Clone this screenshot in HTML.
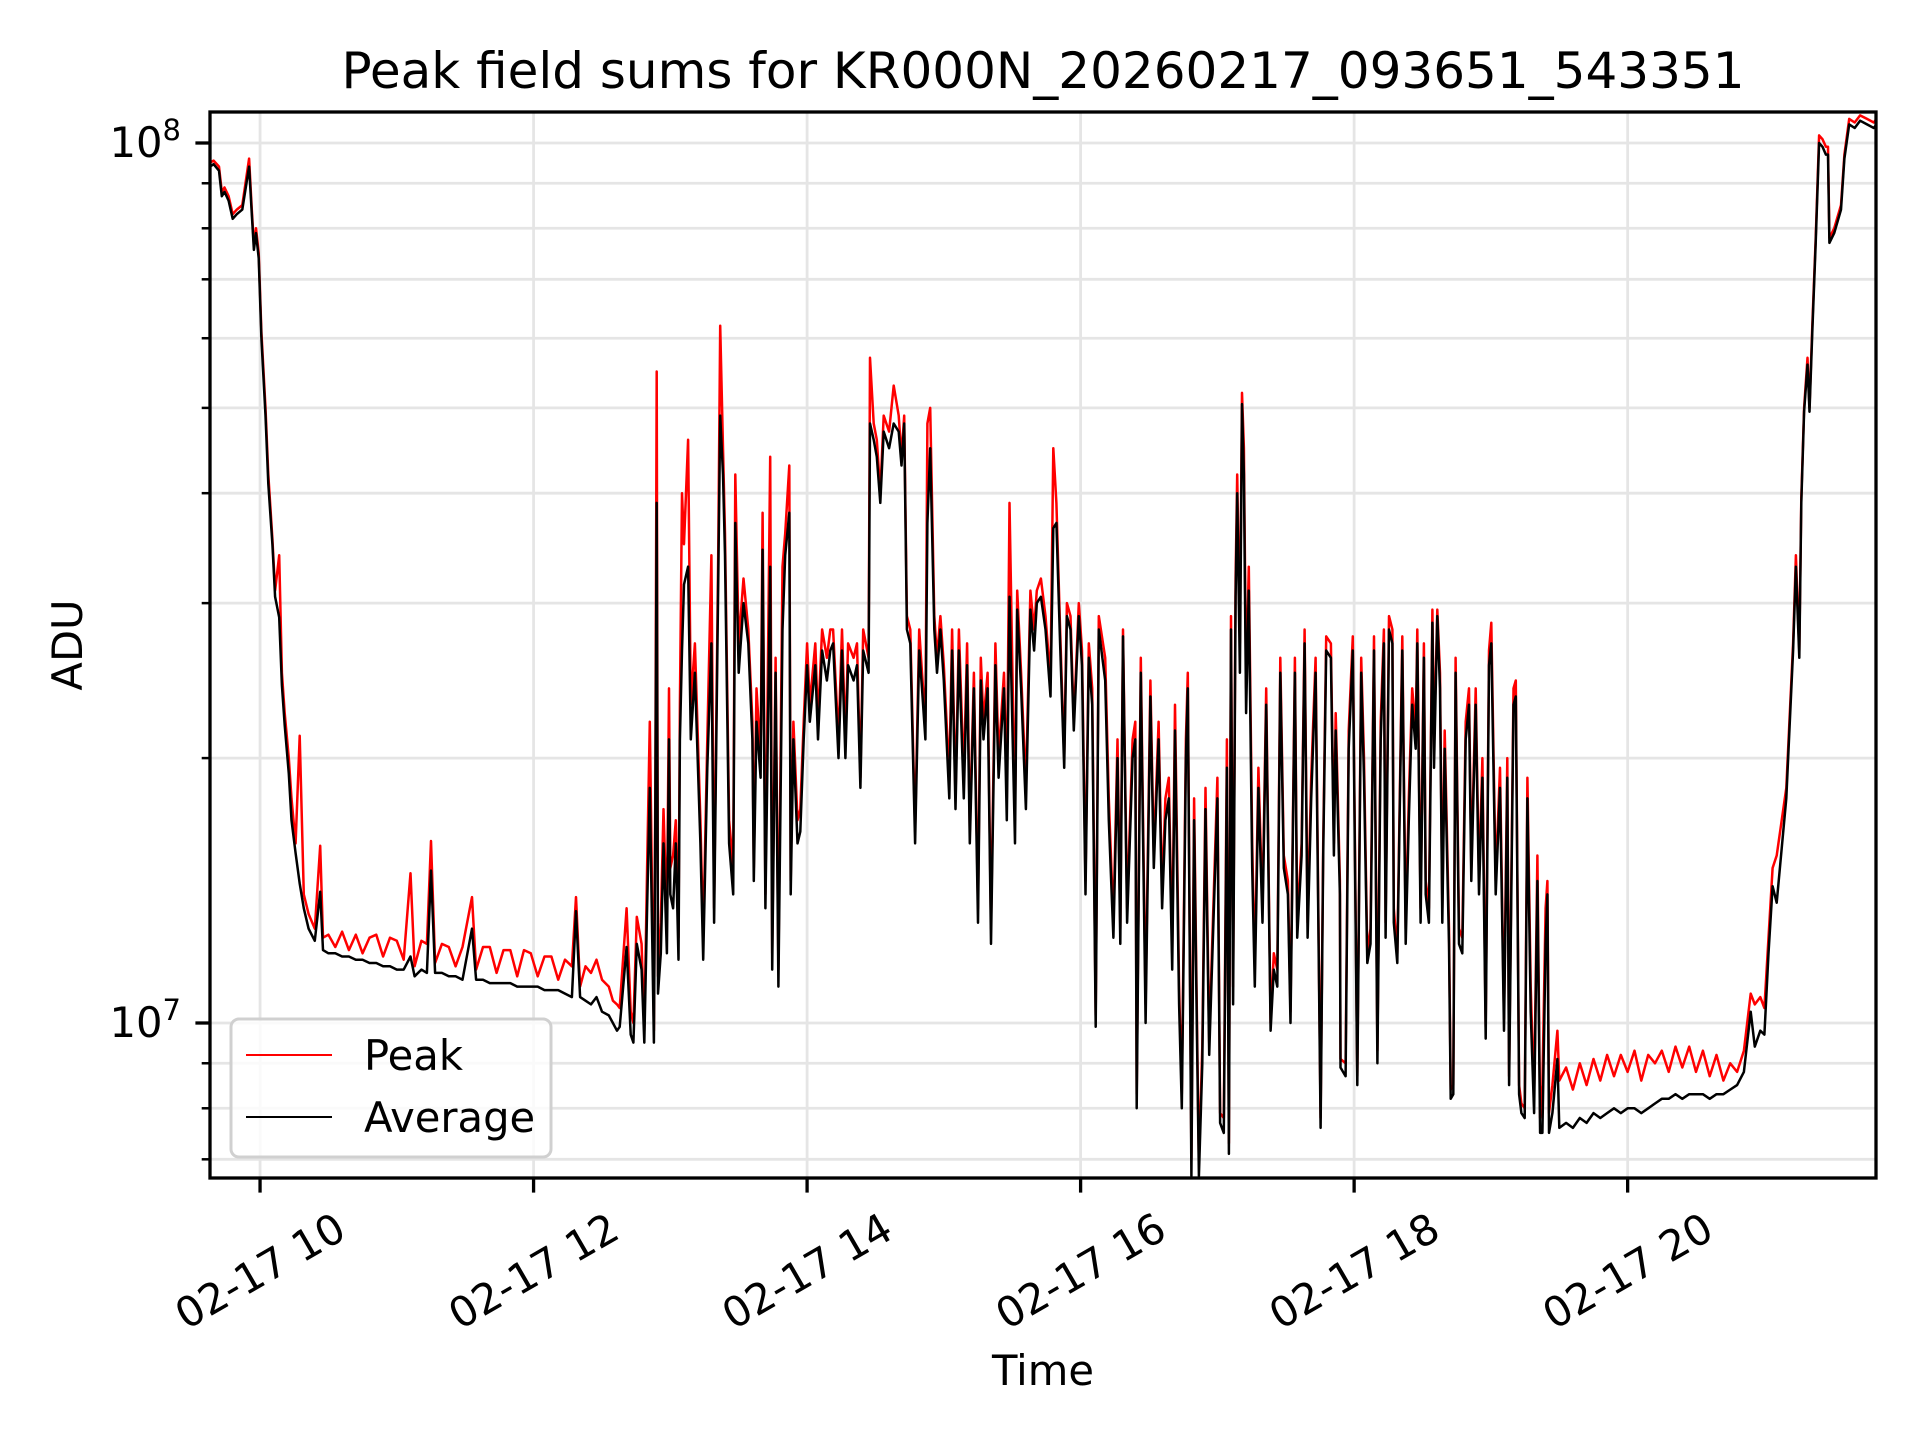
<!DOCTYPE html>
<html><head><meta charset="utf-8">
<style>
html,body{margin:0;padding:0;background:#fff;}
svg{display:block;font-family:"DejaVu Sans","Liberation Sans",sans-serif;}
</style></head>
<body>
<svg id="chart" width="1920" height="1440" viewBox="0 0 1920 1440" xmlns="http://www.w3.org/2000/svg">
<rect x="0" y="0" width="1920" height="1440" fill="#fff"/>
<defs><clipPath id="plotclip"><rect x="210" y="112" width="1666" height="1066"/></clipPath></defs>
<g id="grid"></g>
<g id="series" clip-path="url(#plotclip)"></g>
<rect x="210" y="112" width="1666" height="1066" fill="none" stroke="#000" stroke-width="3.3"/>
<g id="ticks"></g>
<text x="1043" y="88" font-size="50" text-anchor="middle">Peak field sums for KR000N_20260217_093651_543351</text>
<text x="1043" y="1385" font-size="41.7" text-anchor="middle">Time</text>
<text x="0" y="0" font-size="41.7" text-anchor="middle" transform="translate(82,645) rotate(-90)">ADU</text>
<g>
<rect x="231" y="1019" width="320" height="138" rx="8" fill="#fff" fill-opacity="0.8" stroke="#d0d0d0" stroke-width="3"/>
<line x1="246" y1="1055" x2="332" y2="1055" stroke="#ff0000" stroke-width="2"/>
<text x="364" y="1070" font-size="41.7">Peak</text>
<line x1="246" y1="1117" x2="332" y2="1117" stroke="#000" stroke-width="2"/>
<text x="364" y="1132" font-size="41.7">Average</text>
</g>
</svg>
<script>
// time in hours on 2026-02-17; values in millions of ADU
const times = [9.634,9.66,9.70,9.72,9.74,9.77,9.80,9.83,9.87,9.92,9.94,9.955,9.97,9.99,10.01,10.04,10.06,10.09,10.11,10.14,10.16,10.18,10.21,10.23,10.26,10.29,10.32,10.355,10.40,10.44,10.46,
10.50,10.55,10.60,10.65,10.70,10.75,10.80,10.85,10.90,10.95,11.00,11.05,11.10,11.13,11.18,11.22,11.25,11.28,11.33,11.38,11.43,11.48,11.55,11.58,11.63,11.68,11.73,11.78,11.83,11.88,11.93,11.98,12.03,12.08,12.13,12.18,12.23,12.28,12.31,12.34,12.38,12.42,12.46,12.50,12.55,12.58,12.61,
12.63,12.68,12.71,12.73,12.755,12.79,12.81,12.83,12.85,12.88,12.89,12.90,12.91,12.93,12.95,12.975,12.99,13.0,13.02,13.04,13.06,13.07,13.085,13.10,13.13,13.15,13.18,13.22,13.24,13.27,13.30,13.32,13.35,13.365,13.385,13.40,13.43,13.46,13.475,13.50,13.535,13.57,13.60,13.61,13.63,13.66,13.675,13.695,13.73,13.745,13.77,13.79,13.82,13.84,13.87,13.88,13.90,13.93,13.95,13.975,14.0,14.02,14.06,14.08,14.11,14.145,14.17,14.19,14.23,14.255,14.28,14.30,14.34,14.365,14.39,14.41,14.45,14.46,14.487,14.51,14.535,14.56,14.60,14.633,14.67,14.69,14.71,14.73,14.755,14.79,14.82,14.84,14.865,14.88,14.90,14.93,14.95,14.975,15.0,15.04,15.06,15.085,15.11,15.146,15.17,15.19,15.22,15.25,15.27,15.29,15.32,15.345,15.377,15.40,15.44,15.46,15.48,15.52,15.536,15.565,15.60,15.633,15.66,15.68,15.71,15.743,15.78,15.80,15.823,15.85,15.88,15.90,15.926,15.95,15.987,16.01,16.036,16.06,16.085,16.11,16.133,
16.18,16.206,16.24,16.27,16.29,16.31,16.34,16.38,16.40,16.41,16.44,16.475,16.51,16.535,16.57,16.596,16.62,16.645,16.67,16.69,16.72,16.74,16.77,16.784,16.81,16.83,16.85,16.865,16.89,16.913,16.94,16.96,17.0,17.02,17.047,17.07,17.084,17.10,17.115,17.133,17.145,17.165,17.18,17.194,17.21,17.23,17.255,17.274,17.30,17.33,17.357,17.389,17.413,17.438,17.46,17.486,17.516,17.535,17.567,17.584,17.616,17.638,17.66,17.686,17.718,17.755,17.774,17.796,17.83,17.852,17.865,17.896,17.90,17.938,17.96,17.99,18.023,18.052,18.072,18.096,18.12,18.145,18.17,18.194,18.218,18.23,18.255,18.28,18.29,18.316,18.352,18.377,18.40,18.425,18.45,18.462,18.486,18.51,18.523,18.547,18.572,18.584,18.608,18.628,18.645,18.662,18.694,18.706,18.725,18.742,18.767,18.791,18.816,18.84,18.857,18.889,18.913,18.938,18.962,18.986,19.003,19.035,19.067,19.096,19.12,19.133,19.165,19.182,19.206,19.223,19.247,19.267,19.291,19.316,19.34,19.36,19.377,19.40,19.413,19.425,19.45,19.486,
19.50,19.55,19.60,19.65,19.70,19.75,19.80,19.85,19.90,19.95,20.0,20.05,20.1,20.15,20.2,20.25,20.3,20.35,20.4,20.45,20.5,20.55,20.6,20.65,20.7,20.75,20.8,20.85,20.9,20.93,20.97,21.0,21.03,21.06,21.09,21.16,21.18,21.21,21.23,21.255,21.27,21.29,21.315,21.33,21.35,21.375,21.40,21.425,21.45,21.465,21.475,21.51,21.56,21.585,21.62,21.66,21.70,21.75,21.80,21.82];
const averageValues = [94,94.6,93,87,88,86,82,83,84,94,83,75.6,79,74,60,49,41,35,30.5,28.9,24.2,21.8,19.2,17,15.6,14.4,13.5,12.8,12.4,14.1,12.1,
12.0,12.0,11.9,11.9,11.8,11.8,11.7,11.7,11.6,11.6,11.5,11.5,11.9,11.3,11.5,11.4,14.9,11.4,11.4,11.3,11.3,11.2,12.8,11.2,11.2,11.1,11.1,11.1,11.1,11.0,11.0,11.0,11.0,10.9,10.9,10.9,10.8,10.7,13.4,10.7,10.6,10.5,10.7,10.3,10.2,10.0,9.8,
9.9,12.2,9.7,9.5,12.3,11.5,9.5,13.5,18.5,9.5,17,39,10.8,12,16,12,21,14,13.5,16,11.8,21,26.5,31.5,33,21,25,16,11.8,19.5,27,13,31.5,49,42,34,16,14,37,25,30,27,21,14.5,22,19,34.5,13.5,33,11.5,25,11,28,34,38,14,21,16,16.5,21,25.5,22,25.5,21,26.5,24.5,26.5,27,20,26.5,20,25.5,24.5,25.5,18.5,26.5,25,48,46,44,39,47,45,48,47,43,48,28,27,16,26.5,24,21,37,45,28,25,28,24.5,18,26.5,17.5,26.5,18,25.5,16,24,13,24.5,21,24,12.3,25.5,19,24,17,30.5,16,29.5,24,17.5,29.5,26.5,30,30.5,28,23.5,36.5,37,27,19.5,29,28,21.5,29,25.5,14,26,23,9.9,28,
24.5,17,12.5,20,12.3,27.5,13,20,21,8,25,10,23.5,15,21,13.5,17,18,11.5,21.5,10.5,8,20,24,6.7,17,9.8,6.7,9,17.5,9.2,11.5,18,7.7,7.5,19.5,7.1,28,10.5,30.5,40,25,50.5,42,22.5,31,15,11,18.5,13,23,9.8,11.5,11,25,15,14,10,25,12.5,15.5,27,12.5,18,25,7.6,15.5,26.5,26,15.5,21.5,14,8.9,8.7,20.5,26.5,8.5,25,19,11.7,12.3,26.5,9,21,27,12.5,28,27,13,11.7,26.5,12.3,17,23,20.5,27,13,26,14,13,28.5,19.5,29,24,13,20.5,12.3,8.2,8.3,25,12.3,12,21,23,14.5,23,14,19,9.6,25.5,27,14,18.5,9.8,19,8.5,23,23.5,8.3,7.9,7.8,18,10.3,7.9,14.5,7.5,7.5,12.3,14,7.5,7.9,9.1,
7.6,7.7,7.6,7.8,7.7,7.9,7.8,7.9,8.0,7.9,8.0,8.0,7.9,8.0,8.1,8.2,8.2,8.3,8.2,8.3,8.3,8.3,8.2,8.3,8.3,8.4,8.5,8.8,10.3,9.4,9.8,9.7,12.0,14.3,13.7,18,21,26.5,33,26,39,49.5,56,49.5,61,77,100,99,97,97,77,79,84,96,105,104,106,105,104,105];
const peakValues = [95,95.5,94,88,89,87,83,84,85,96,84,76.5,80,75,61,50,42,35.5,31,34,25,22.5,20,18,16,21.2,14,13.3,12.8,15.9,12.5,
12.6,12.2,12.7,12.1,12.6,12.0,12.5,12.6,11.9,12.5,12.4,11.8,14.8,11.6,12.4,12.3,16.1,11.7,12.3,12.2,11.6,12.2,13.9,11.5,12.2,12.2,11.4,12.1,12.1,11.3,12.1,12.0,11.3,11.9,11.9,11.2,11.8,11.6,13.9,11.0,11.6,11.4,11.8,11.2,11.0,10.6,10.5,
10.4,13.5,10.3,10.0,13.2,12.3,9.8,15,22,9.8,18,55,11.3,13,17.5,13,24,15,15.5,17,12.5,23,40,35,46,23,27,17,12.5,21,34,13.5,34,62,45,36,17,15,42,27,32,28,22,15,24,20,38,14,44,12,26,11.5,33,36,43,14.5,22,17,17.5,22,27,23,27,22,28,26,28,28,21,28,21,27,26,27,19,28,26,57,48,46,40,49,47,53,49,44,49,29,28,16.5,28,25,22,48,50,29,26,29,25.5,19,28,18,28,19,27,16.5,25,13.5,26,22,25,12.8,27,20,25,18,39,17,31,25,18.5,31,28,31,32,29,24.5,45,39,28,20,30,29,22,30,26.5,14.5,27,24,10.2,29,
26,18,13,21,12.8,28,13.5,21,22,8.3,26,10.5,24.5,15.5,22,14,18,19,12,23,11,8.3,21,25,7,18,10.2,6.9,9.4,18.5,9.5,12,19,7.9,7.8,21,7.3,29,11,32,42,27,52,45,24,33,16,11.5,19.5,13.5,24,10,12,11.5,26,15.5,14.5,10.3,26,13,16,28,13,19,26,7.8,16,27.5,27,16,22.5,14.5,9.1,9,21.5,27.5,8.7,26,20,12,12.8,27.5,9.3,22,28,13,29,28,13.5,12,27.5,12.8,18,24,21.5,28,13.5,27,14.5,13.5,29.5,20.5,29.5,25,13.5,21.5,12.8,8.4,8.5,26,12.8,12.5,22,24,15,24,14.5,20,9.9,26.5,28.5,14.5,19.5,10.1,20,8.7,24,24.5,8.5,8.1,8.0,19,11,8.2,15.5,7.8,8.5,13.5,14.5,7.9,8.5,9.8,
8.6,8.9,8.4,9.0,8.5,9.1,8.6,9.2,8.7,9.2,8.8,9.3,8.6,9.2,9.0,9.3,8.8,9.4,8.9,9.4,8.8,9.3,8.7,9.2,8.6,9.0,8.8,9.3,10.8,10.5,10.7,10.4,12.5,15,15.5,18.5,21.5,27,34,26.5,39.5,50,57,50,62,78,102,101,99,99,78,80,85,97,106.5,105.5,107.5,106.5,105.5,106.5];
const xTickHours = [10,12,14,16,18,20];
const xTickLabels = ["02-17 10","02-17 12","02-17 14","02-17 16","02-17 18","02-17 20"];
const yMajorTicks = [10,100];
const yMajorExponents = ["7","8"];
const yMinorTicks = [7,8,9,20,30,40,50,60,70,80,90];

const NS = "http://www.w3.org/2000/svg";
const X0 = 210, X1 = 1876, Y0 = 112, Y1 = 1178;
const H0 = 9.634, H1 = 21.816;
function xScale(h){ return X0 + (h - H0) / (H1 - H0) * (X1 - X0); }
function yScale(v){ return 1023 - (Math.log10(v) - 1) * 880; }
function mk(tag, attrs, parent){
  const e = document.createElementNS(NS, tag);
  for (const k in attrs) e.setAttribute(k, attrs[k]);
  parent.appendChild(e);
  return e;
}
const grid = document.getElementById('grid');
const ticks = document.getElementById('ticks');
const series = document.getElementById('series');

xTickHours.forEach((h, i) => {
  const x = xScale(h);
  const g = mk('line', {x1:x, x2:x, y1:Y0, y2:Y1, stroke:'#e5e5e5', 'stroke-width':2.8}, grid);
  
  
  const t = mk('line', {x1:x, x2:x, y1:Y1, y2:Y1+14.6, stroke:'#000', 'stroke-width':3.3}, ticks);
  
  
  const lab = mk('text', {x:0, y:0, 'font-size':41.7, 'text-anchor':'middle', 'dominant-baseline':'central', transform:'translate(' + x + ',1271) rotate(-30)'}, ticks);
  lab.textContent = xTickLabels[i];
  
  
});
yMinorTicks.forEach(v => {
  const y = yScale(v);
  const g = mk('line', {x1:X0, x2:X1, y1:y, y2:y, stroke:'#e5e5e5', 'stroke-width':2.8}, grid);
  
  
  const t = mk('line', {x1:X0-8.3, x2:X0, y1:y, y2:y, stroke:'#000', 'stroke-width':2.5}, ticks);
  
  
});
yMajorTicks.forEach((v, i) => {
  const y = yScale(v);
  const g = mk('line', {x1:X0, x2:X1, y1:y, y2:y, stroke:'#e5e5e5', 'stroke-width':2.8}, grid);
  
  
  const t = mk('line', {x1:X0-14.6, x2:X0, y1:y, y2:y, stroke:'#000', 'stroke-width':3.3}, ticks);
  
  
  const lab = mk('text', {x:X0-29, y:y+14, 'font-size':41.7, 'text-anchor':'end'}, ticks);
  
  
  lab.appendChild(document.createTextNode('10'));
  const sup = mk('tspan', {dy:-17, 'font-size':29}, lab);
  sup.textContent = yMajorExponents[i];
});
function pathFor(vals){
  return vals.map((v, i) => (i ? 'L' : 'M') + xScale(times[i]).toFixed(1) + ',' + yScale(v).toFixed(1)).join('');
}
const peakLine = mk('path', {d:pathFor(peakValues), fill:'none', stroke:'#ff0000', 'stroke-width':2.5, 'stroke-linejoin':'round'}, series);


const avgLine = mk('path', {d:pathFor(averageValues), fill:'none', stroke:'#000', 'stroke-width':2.5, 'stroke-linejoin':'round'}, series);


</script>
</body></html>
